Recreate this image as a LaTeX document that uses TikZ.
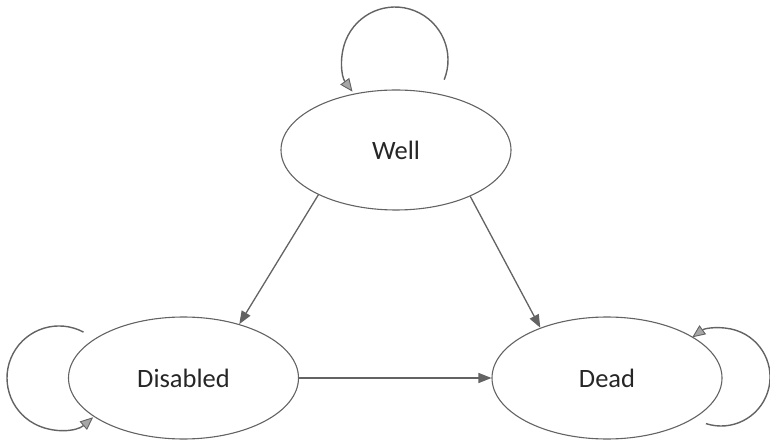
\documentclass[tikz,border=0pt]{standalone}
\usepackage{fontspec}
\setmainfont{Carlito}
\usetikzlibrary{shapes.geometric,arrows.meta}
\definecolor{linegray}{HTML}{636363}
\definecolor{textgray}{HTML}{262626}
\definecolor{tipfill}{HTML}{A6A6A6}
\tikzset{
  state/.style={ellipse, draw=linegray, line width=1.1pt, minimum width=230pt,
    minimum height=122pt, inner sep=0pt, text=textgray,
    font=\fontsize{26.5}{30}\selectfont},
  arr/.style={draw=linegray, line width=1.3pt,
    -{Triangle[length=13pt,width=10pt,fill=linegray]}},
  looparr/.style={draw=linegray, line width=1.4pt,
    -{Triangle[length=13pt,width=11pt,fill=tipfill,line width=0.9pt]}}
}
\begin{document}
\begin{tikzpicture}[x=1pt,y=1pt]
\useasboundingbox (0,0) rectangle (770,442);
\node[state, minimum height=120pt] (Well) at (396,292) {Well};
\node[state] (Disabled) at (183.5,64) {Disabled};
\node[state] (Dead) at (607,64) {Dead};
\draw[arr] (Well.210.9) -- (Disabled.44.7);
\draw[arr] (Well.-32.6) -- (Dead.143.5);
\draw[arr] (Disabled.east) -- (Dead.west);
\coordinate (wellloop) at (444.2,362.3);
\draw[looparr] (wellloop) arc[start angle=-21.8, end angle=216.7, radius=53];
\coordinate (disloop) at (83.5,109.9);
\draw[looparr] (disloop) arc[start angle=61.9, end angle=311, radius=52];
\coordinate (deadloop) at (705.9,18.4);
\draw[looparr] (deadloop) arc[start angle=-108, end angle=126, radius=49];
\end{tikzpicture}
\end{document}
